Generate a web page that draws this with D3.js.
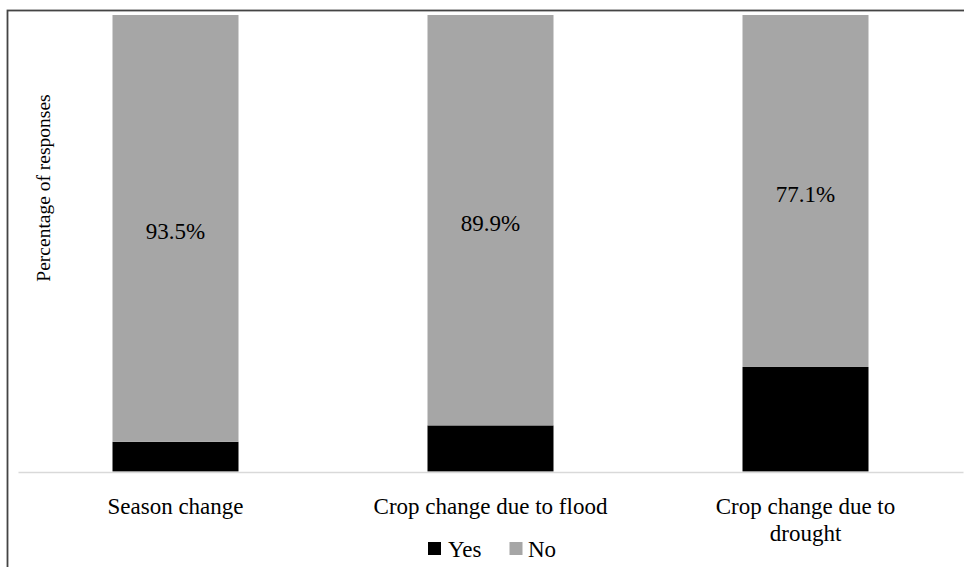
<!DOCTYPE html>
<html>
<head>
<meta charset="utf-8">
<script src="https://cdn.jsdelivr.net/npm/d3@7"></script>
<style>
  html, body { margin: 0; padding: 0; background: #fff; }
  svg { display: block; }
  svg text { font-family: "Liberation Serif", "Tinos", "Times New Roman", "DejaVu Serif", serif; fill: #000; }
</style>
</head>
<body>
<svg id="chart" width="964" height="567" font-family="Liberation Serif, Times New Roman, serif"></svg>
<script>
// Survey responses: share of "Yes" and "No" answers per adaptation question
const categories = ["Season change", "Crop change due to flood", "Crop change due to drought"];
const yesValues = [6.5, 10.1, 22.9];
const noValues = [93.5, 89.9, 77.1];
const seriesNames = ["Yes", "No"];
const seriesColors = ["#000000", "#a6a6a6"];
const yTitle = "Percentage of responses";

const svg = d3.select("#chart");
const serif = "Liberation Serif, Times New Roman, serif";

// frame around the chart area
svg.append("rect")
  .attr("x", 7.5).attr("y", 10.5)
  .attr("width", 1000).attr("height", 1000)
  .attr("fill", "none")
  .attr("stroke", "#444")
  .attr("stroke-width", 1.8);

const plot = { left: 18, right: 963, top: 15, bottom: 471.5 };

const x = d3.scaleBand()
  .domain(categories)
  .range([plot.left, plot.right])
  .paddingInner(0.6)
  .paddingOuter(0.3);

const y = d3.scaleLinear()
  .domain([0, 100])
  .range([plot.bottom, plot.top]);

// stack the two series
const rows = categories.map((c, i) => ({ category: c, Yes: yesValues[i], No: noValues[i] }));
const stacked = d3.stack().keys(seriesNames)(rows);

const layers = svg.append("g").selectAll("g")
  .data(stacked)
  .join("g")
  .attr("fill", (d, i) => seriesColors[i]);

layers.selectAll("rect")
  .data(d => d)
  .join("rect")
  .attr("x", d => x(d.data.category))
  .attr("width", x.bandwidth())
  .attr("y", d => y(d[1]))
  .attr("height", d => y(d[0]) - y(d[1]));

// baseline (category axis)
const xAxis = d3.axisBottom(x).tickSize(0).tickPadding(0).tickFormat("");
const axisG = svg.append("g")
  .attr("transform", `translate(0,${plot.bottom + 0.5})`)
  .call(xAxis);
axisG.select(".domain").attr("stroke", "#d9d9d9").attr("stroke-width", 1.5);

// category labels, wrapped to fit the band
const maxLabelWidth = 245;
const catLabels = svg.append("g").selectAll("text")
  .data(categories)
  .join("text")
  .attr("x", d => x(d) + x.bandwidth() / 2)
  .attr("y", 514)
  .attr("text-anchor", "middle")
  .attr("font-family", serif)
  .attr("font-size", 23);

catLabels.each(function(d) {
  const t = d3.select(this);
  const words = d.split(" ");
  let line = [];
  let tspan = t.append("tspan").attr("x", t.attr("x")).attr("dy", 0);
  words.forEach(w => {
    line.push(w);
    tspan.text(line.join(" "));
    if (tspan.node().getComputedTextLength() > maxLabelWidth && line.length > 1) {
      line.pop();
      tspan.text(line.join(" "));
      line = [w];
      tspan = t.append("tspan").attr("x", t.attr("x")).attr("dy", 27).text(w);
    }
  });
});

// value labels on the "No" segments
const noLayer = stacked[1];
svg.append("g").selectAll("text")
  .data(noLayer)
  .join("text")
  .attr("x", d => x(d.data.category) + x.bandwidth() / 2)
  .attr("y", d => (y(d[0]) + y(d[1])) / 2 + 3)
  .attr("dy", "0.35em")
  .attr("text-anchor", "middle")
  .attr("font-family", serif)
  .attr("font-size", 23)
  .text(d => d.data.No.toFixed(1) + "%");

// y-axis title
svg.append("text")
  .attr("transform", `translate(50,188) rotate(-90)`)
  .attr("text-anchor", "middle")
  .attr("font-family", serif)
  .attr("font-size", 19.5)
  .text(yTitle);

// legend
const legendItems = [
  { name: seriesNames[0], color: seriesColors[0], sx: 428, tx: 448 },
  { name: seriesNames[1], color: seriesColors[1], sx: 509.5, tx: 528 }
];
const legend = svg.append("g");
legend.selectAll("rect")
  .data(legendItems)
  .join("rect")
  .attr("x", d => d.sx).attr("y", 542)
  .attr("width", 13).attr("height", 13)
  .attr("fill", d => d.color);
legend.selectAll("text")
  .data(legendItems)
  .join("text")
  .attr("x", d => d.tx).attr("y", 557)
  .attr("font-family", serif)
  .attr("font-size", 23)
  .text(d => d.name);
</script>
</body>
</html>
